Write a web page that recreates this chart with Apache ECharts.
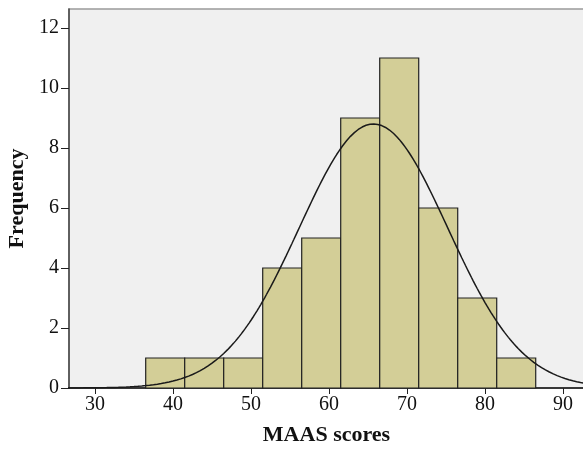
<!DOCTYPE html>
<html>
<head>
<meta charset="utf-8">
<script src="https://cdn.jsdelivr.net/npm/echarts@6/dist/echarts.min.js"></script>
<style>
  html, body { margin: 0; padding: 0; background: #ffffff; }
  #chart { width: 583px; height: 452px; }
</style>
</head>
<body>
<div id="chart"></div>
<script>
// Histogram bins of MAAS scores (bin start, bin end) and their frequencies
const binStarts = [36.5, 41.5, 46.5, 51.5, 56.5, 61.5, 66.5, 71.5, 76.5, 81.5];
const binWidth = 5;
const frequencies = [1, 1, 1, 4, 5, 9, 11, 6, 3, 1];

// Fitted normal curve parameters
const curveMean = 65.7;
const curveSD = 9.52;
const sampleSize = 42;

// Tick labels
const xTicks = [30, 40, 50, 60, 70, 80, 90];
const yTicks = [0, 2, 4, 6, 8, 10, 12];

const barData = binStarts.map((s, i) => [s, s + binWidth, frequencies[i]]);

// Normal density scaled to counts per bin
const curveData = [];
for (let x = 26; x <= 93; x += 0.25) {
  const z = (x - curveMean) / curveSD;
  const y = sampleSize * binWidth * Math.exp(-0.5 * z * z) / (curveSD * Math.sqrt(2 * Math.PI));
  curveData.push([x, y]);
}

const font = 'Liberation Serif, Times New Roman, serif';
const chart = echarts.init(document.getElementById('chart'), null, { renderer: 'canvas' });

chart.setOption({
  animation: false,
  backgroundColor: '#ffffff',
  grid: {
    left: 69, right: -1, top: 9, bottom: 64,
    outerBoundsMode: 'none',
    containLabel: false,
    show: true, backgroundColor: '#f0f0f0',
    borderColor: '#9a9a9a', borderWidth: 1.5
  },
  xAxis: {
    type: 'value',
    min: 26.667, max: 92.69,
    name: 'MAAS scores',
    nameLocation: 'middle',
    nameGap: 36,
    nameTextStyle: { fontFamily: font, fontSize: 22, fontWeight: 'bold', color: '#111' },
    splitLine: { show: false },
    axisLine: { show: true, onZero: false, lineStyle: { color: '#111', width: 1.5 } },
    axisTick: { show: true, length: 6, customValues: xTicks, lineStyle: { color: '#222' } },
    axisLabel: { customValues: xTicks, fontFamily: font, fontSize: 20, color: '#111', margin: 7 }
  },
  yAxis: {
    type: 'value',
    min: 0, max: 12.633,
    name: 'Frequency',
    nameLocation: 'middle',
    nameGap: 37,
    nameRotate: 90,
    nameTextStyle: { fontFamily: font, fontSize: 22, fontWeight: 'bold', color: '#111' },
    splitLine: { show: false },
    axisLine: { show: true, lineStyle: { color: '#444', width: 1.5 } },
    axisTick: { show: true, length: 8, customValues: yTicks, lineStyle: { color: '#222' } },
    axisLabel: { customValues: yTicks, fontFamily: font, fontSize: 20, color: '#111', margin: 10 }
  },
  series: [
    {
      type: 'custom',
      data: barData,
      encode: { x: [0, 1], y: 2 },
      renderItem: function (params, api) {
        const p0 = api.coord([api.value(0), 0]);
        const p1 = api.coord([api.value(1), api.value(2)]);
        return {
          type: 'rect',
          shape: { x: p0[0], y: p1[1], width: p1[0] - p0[0], height: p0[1] - p1[1] },
          style: { fill: '#d3ce97', stroke: '#222', lineWidth: 1.2 }
        };
      },
      z: 2
    },
    {
      type: 'line',
      data: curveData,
      showSymbol: false,
      smooth: false,
      lineStyle: { color: '#1a1a1a', width: 1.5 },
      z: 3
    }
  ]
});
</script>
</body>
</html>
